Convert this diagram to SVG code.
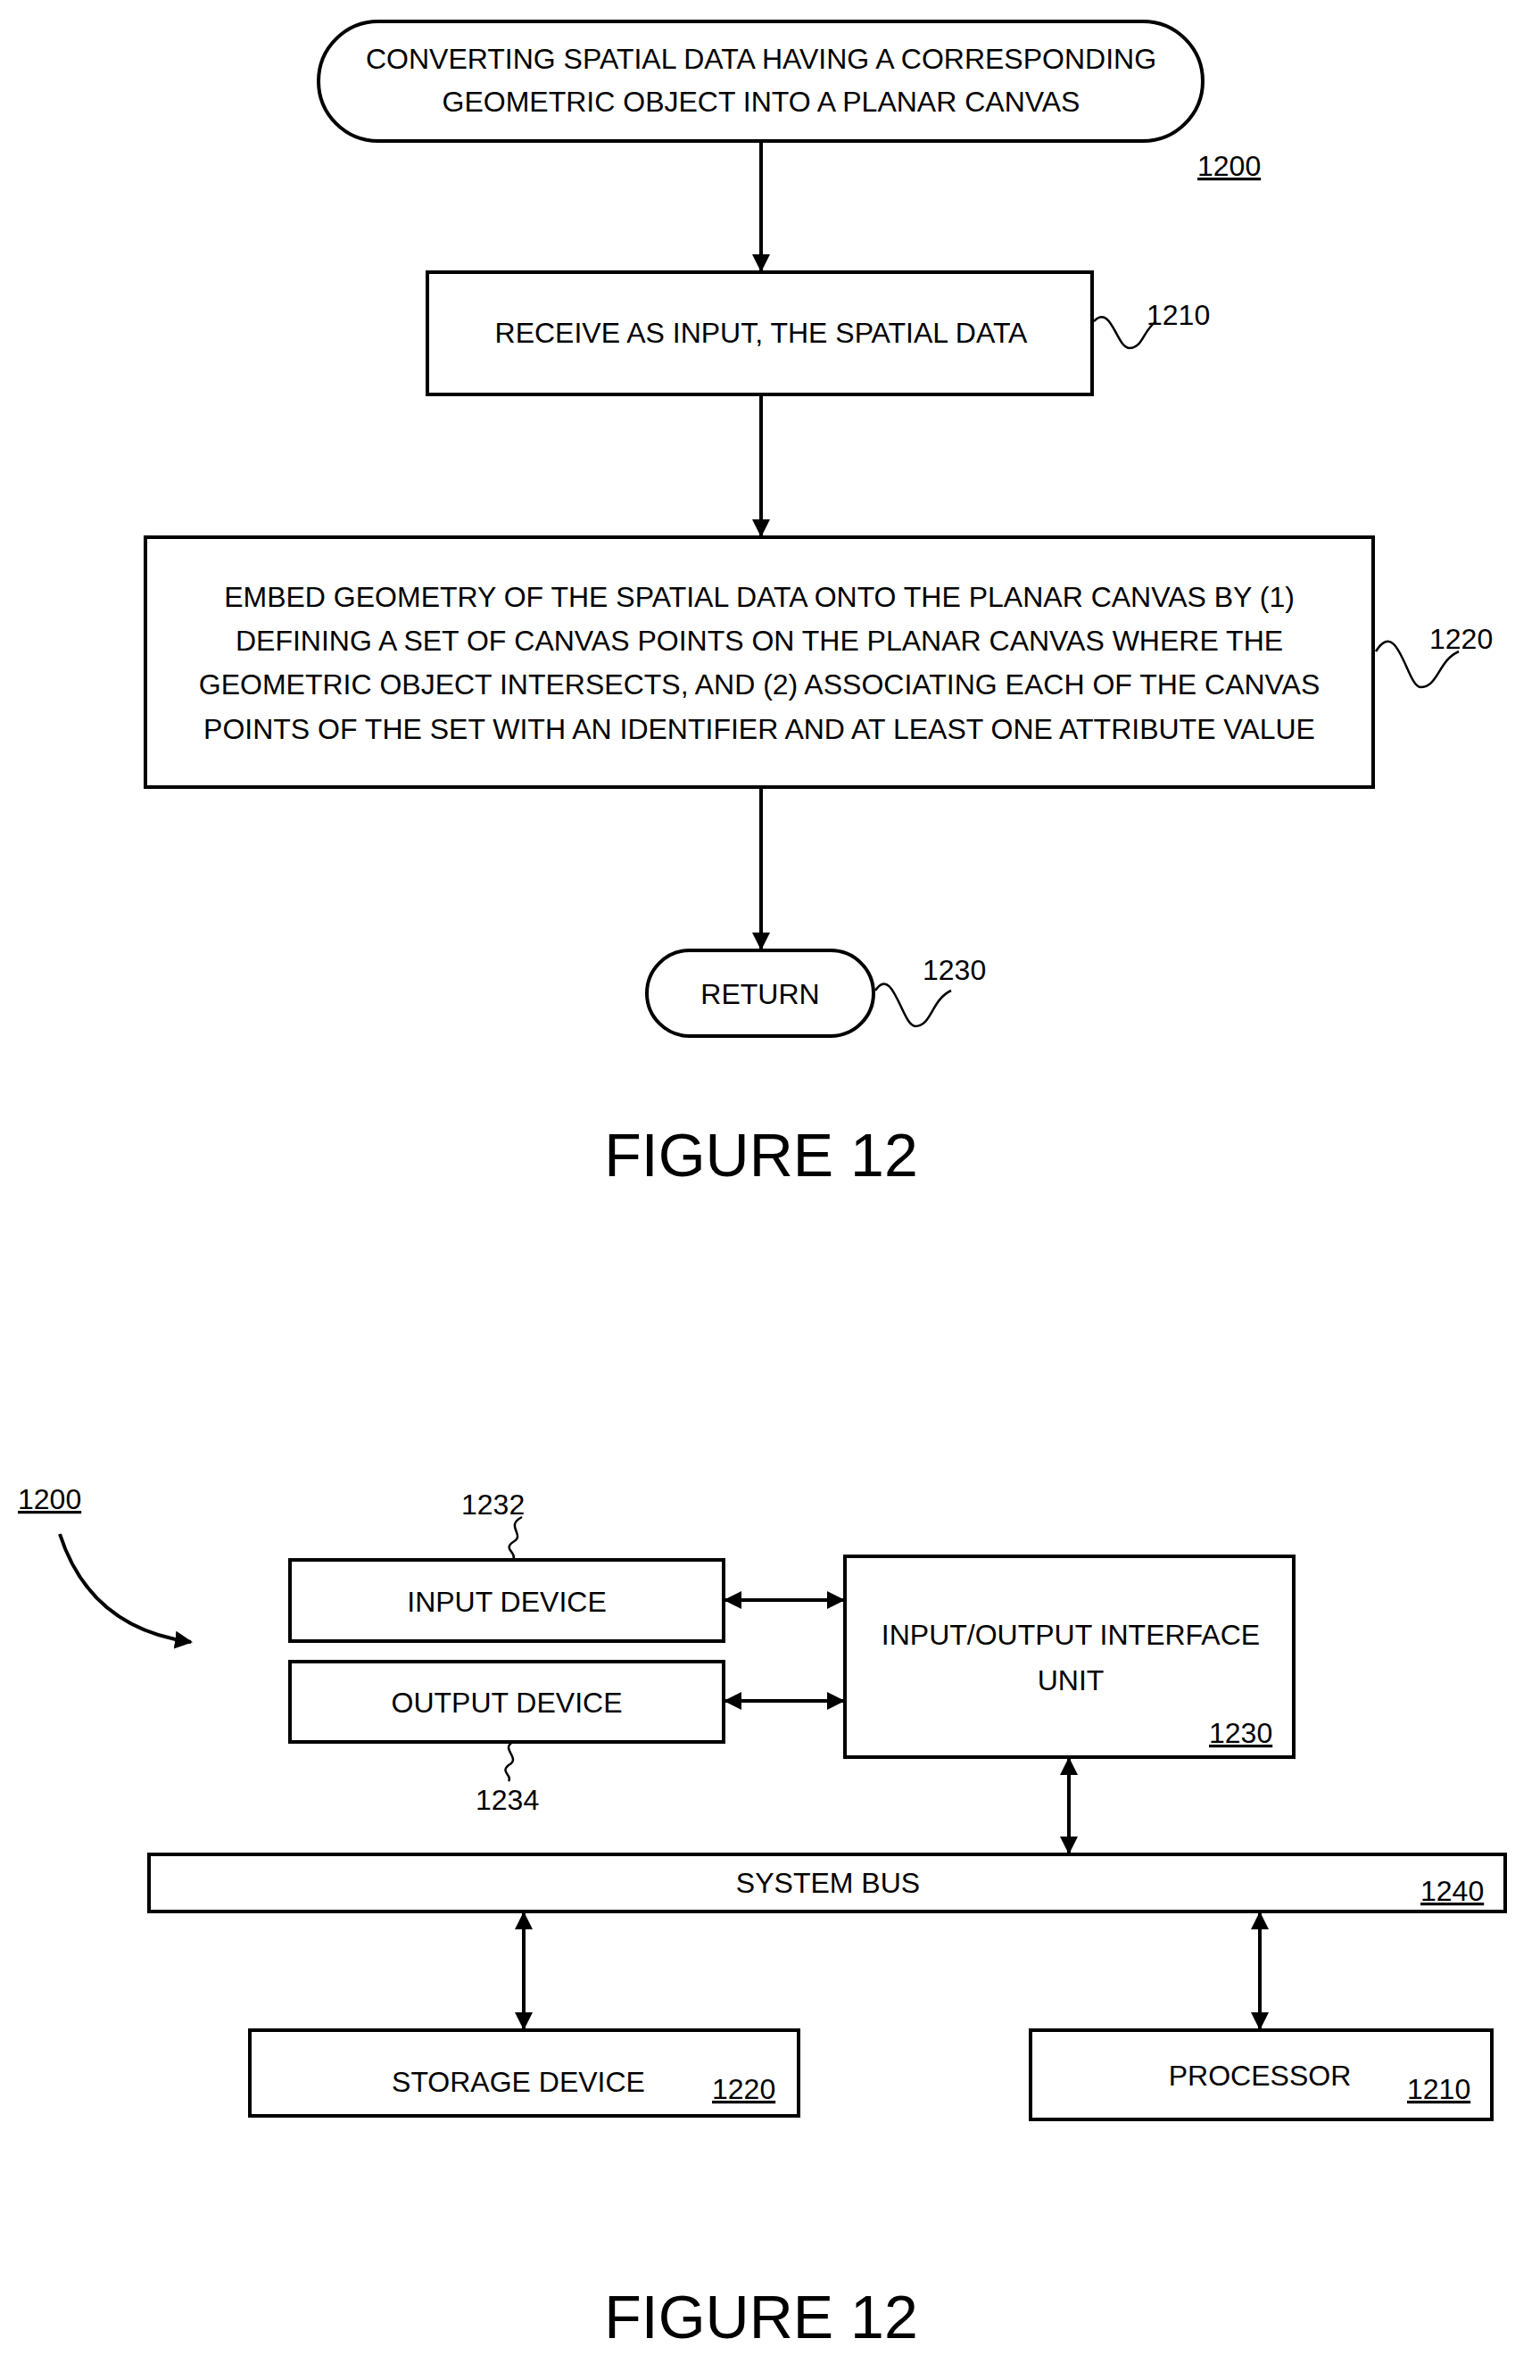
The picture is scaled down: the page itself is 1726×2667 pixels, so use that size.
<svg xmlns="http://www.w3.org/2000/svg" width="1726" height="2667" viewBox="0 0 1726 2667">
<style>
.b{fill:#fff;stroke:#000;stroke-width:4}
.t{font-family:"Liberation Sans",Arial,sans-serif;font-size:32px;text-anchor:middle;fill:#000}
.l{font-family:"Liberation Sans",Arial,sans-serif;font-size:32px;fill:#000;text-decoration:underline}
.n{font-family:"Liberation Sans",Arial,sans-serif;font-size:32px;fill:#000}
.f{font-family:"Liberation Sans",Arial,sans-serif;font-size:68px;text-anchor:middle;fill:#000}
.c{fill:none;stroke:#000;stroke-width:4}
.s{fill:none;stroke:#000;stroke-width:2.5}
</style>
<defs>
<marker id="a" viewBox="0 0 10 10" refX="9" refY="5" markerWidth="5" markerHeight="5" orient="auto-start-reverse"><path d="M0,0L10,5L0,10z" fill="#000"/></marker>
</defs>
<g id="connectors">
<line class="c" x1="853" y1="158" x2="853" y2="303" marker-end="url(#a)"/>
<line class="c" x1="853" y1="442" x2="853" y2="600" marker-end="url(#a)"/>
<line class="c" x1="853" y1="882" x2="853" y2="1063" marker-end="url(#a)"/>
<path class="s" d="M1226,360 c20,-20 25,30 40,30 c15,0 15,-20 30,-30"/>
<path class="s" d="M1542,730 c25,-40 35,40 50,40 c20,0 20,-30 43,-40"/>
<path class="s" d="M981,1110 c20,-30 30,40 45,40 c18,0 18,-30 40,-40"/>
<path class="c" d="M67,1719 C90,1790 140,1830 214,1840" marker-end="url(#a)"/>
<path class="s" d="M585,1700 c-20,10 5,20 -10,28 c-12,8 5,12 0,20"/>
<path class="s" d="M575,1952 c-15,8 10,18 -5,26 c-10,8 5,12 0,18"/>
<line class="c" x1="813" y1="1793" x2="945" y2="1793" marker-start="url(#a)" marker-end="url(#a)"/>
<line class="c" x1="813" y1="1906" x2="945" y2="1906" marker-start="url(#a)" marker-end="url(#a)"/>
<line class="c" x1="1198" y1="1971" x2="1198" y2="2076" marker-start="url(#a)" marker-end="url(#a)"/>
<line class="c" x1="587" y1="2144" x2="587" y2="2273" marker-start="url(#a)" marker-end="url(#a)"/>
<line class="c" x1="1412" y1="2144" x2="1412" y2="2273" marker-start="url(#a)" marker-end="url(#a)"/>
</g>
<g id="start"><rect class="b" x="357" y="24" width="991" height="134" rx="67"/>
<text class="t" x="853" y="77">CONVERTING SPATIAL DATA HAVING A CORRESPONDING</text>
<text class="t" x="853" y="125">GEOMETRIC OBJECT INTO A PLANAR CANVAS</text></g>
<text class="l" x="1342" y="197">1200</text>
<g id="n1210"><rect class="b" x="479" y="305" width="745" height="137"/>
<text class="t" x="853" y="384">RECEIVE AS INPUT, THE SPATIAL DATA</text>
<text class="n" x="1285" y="364">1210</text></g>
<g id="n1220"><rect class="b" x="163" y="602" width="1376" height="280"/>
<text class="t" x="851" y="680">EMBED GEOMETRY OF THE SPATIAL DATA ONTO THE PLANAR CANVAS BY (1)</text>
<text class="t" x="851" y="729">DEFINING A SET OF CANVAS POINTS ON THE PLANAR CANVAS WHERE THE</text>
<text class="t" x="851" y="778">GEOMETRIC OBJECT INTERSECTS, AND (2) ASSOCIATING EACH OF THE CANVAS</text>
<text class="t" x="851" y="828">POINTS OF THE SET WITH AN IDENTIFIER AND AT LEAST ONE ATTRIBUTE VALUE</text>
<text class="n" x="1602" y="727">1220</text></g>
<g id="n1230"><rect class="b" x="725" y="1065" width="254" height="96" rx="48"/>
<text class="t" x="852" y="1125">RETURN</text>
<text class="n" x="1034" y="1098">1230</text></g>
<text class="f" x="853" y="1318">FIGURE 12</text>
<text class="l" x="20" y="1691">1200</text>
<g id="input"><rect class="b" x="325" y="1748" width="486" height="91"/>
<text class="t" x="568" y="1806">INPUT DEVICE</text>
<text class="n" x="517" y="1697">1232</text></g>
<g id="output"><rect class="b" x="325" y="1862" width="486" height="90"/>
<text class="t" x="568" y="1919">OUTPUT DEVICE</text>
<text class="n" x="533" y="2028">1234</text></g>
<g id="io"><rect class="b" x="947" y="1744" width="503" height="225"/>
<text class="t" x="1200" y="1843">INPUT/OUTPUT INTERFACE</text>
<text class="t" x="1200" y="1894">UNIT</text>
<text class="l" x="1355" y="1953">1230</text></g>
<g id="bus"><rect class="b" x="167" y="2078" width="1520" height="64"/>
<text class="t" x="928" y="2121">SYSTEM BUS</text>
<text class="l" x="1592" y="2130">1240</text></g>
<g id="storage"><rect class="b" x="280" y="2275" width="615" height="96"/>
<text class="t" x="581" y="2344">STORAGE DEVICE</text>
<text class="l" x="798" y="2352">1220</text></g>
<g id="processor"><rect class="b" x="1155" y="2275" width="517" height="100"/>
<text class="t" x="1412" y="2337">PROCESSOR</text>
<text class="l" x="1577" y="2352">1210</text></g>
<text class="f" x="853" y="2620">FIGURE 12</text>
</svg>
